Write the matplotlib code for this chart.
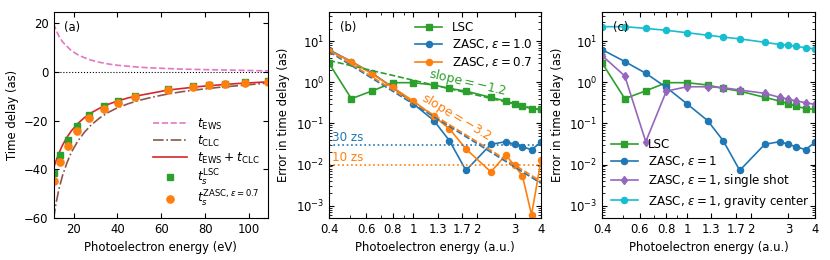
import numpy as np
import matplotlib
matplotlib.use('Agg')
import matplotlib.pyplot as plt
from matplotlib.ticker import FixedLocator, NullFormatter, FixedFormatter

plt.rcParams['font.size'] = 8.4
plt.rcParams['mathtext.fontset'] = 'dejavusans'

# ---- panel (a): time delay vs energy (eV) ----
curve_ev = [10.88, 12, 13.5, 15, 17, 19, 22, 25, 28, 32, 36, 40, 45, 50, 56, 63, 70, 78, 86, 95, 108.84]
t_ews = [20.0, 17.3, 14.5, 12.4, 10.6, 8.8, 7.1, 5.9, 4.9, 4.0, 3.3, 2.8, 2.4, 2.0, 1.7, 1.45, 1.2, 1.05, 0.9, 0.75, 0.5]
t_clc = [-60.5, -54.0, -47.5, -42.5, -37.3, -33.0, -28.3, -24.7, -21.8, -18.8, -16.5, -14.7,
         -13.0, -11.6, -10.3, -9.0, -8.0, -7.1, -6.3, -5.6, -4.5]
t_sum = [-39.5, -36.5, -33.0, -30.0, -26.8, -24.2, -21.1, -18.7, -16.8, -14.8, -13.2, -11.9,
         -10.6, -9.6, -8.6, -7.4, -6.7, -5.9, -5.3, -4.7, -4.0]

energy_au = [0.4, 0.51, 0.64, 0.8, 1.0, 1.25, 1.48, 1.77, 2.32, 2.73, 3.0, 3.27, 3.61, 4.0]
ts_lsc = [-41.3, -34.3, -27.8, -22.3, -17.5, -13.8, -11.8, -9.7, -7.1, -5.9, -5.2, -4.8, -4.2, -3.8]
ts_zasc07 = [-44.6, -37.0, -30.2, -24.1, -18.9, -15.1, -12.6, -10.4, -7.5, -6.3, -5.4, -4.9, -4.3, -3.9]

# ---- panels (b), (c): errors (as) vs energy (a.u.) ----
err_lsc = [2.9, 0.40, 0.62, 0.98, 0.98, 0.86, 0.71, 0.61, 0.43, 0.35, 0.30, 0.26, 0.23, 0.22]
err_zasc10 = [6.2, 3.2, 1.66, 0.75, 0.30, 0.117, 0.038, 0.0072, 0.031, 0.036, 0.031, 0.027, 0.023, 0.035]
err_zasc07 = [5.9, 3.2, 1.6, 0.75, 0.35, 0.15, 0.074, 0.024, 0.0066, 0.017, 0.0095, 0.0053, 0.0006, 0.0126]
err_single = [4.4, 1.43, 0.036, 0.61, 0.78, 0.78, 0.74, 0.65, 0.54, 0.43, 0.39, 0.35, 0.32, 0.29]
err_gravity = [22.6, 22.6, 20.5, 18.4, 16.1, 14.0, 12.6, 11.4, 9.4, 8.3, 8.0, 7.5, 6.9, 6.5]

fit_x = [0.4, 4.0]
fit_lsc = [3.4, 0.21]
fit_zasc10 = [5.6, 0.0035]
fit_zasc07 = [6.0, 0.0039]

au_ticks = [0.4, 0.6, 0.8, 1, 1.3, 1.7, 2, 3, 4]
au_ticklabels = ['0.4', '0.6', '0.8', '1', '1.3', '1.7', '2', '3', '4']

green, blue, orange = '#2ca02c', '#1f77b4', '#ff7f0e'
purple, cyan = '#9467bd', '#17becf'
pink, brown, red = '#e377c2', '#8c564b', '#d62728'

fig = plt.figure(figsize=(8.3, 2.6), dpi=100)
ax_a = fig.add_axes([0.0645, 0.1615, 0.2588, 0.7905])
ax_b = fig.add_axes([0.3964, 0.1615, 0.2554, 0.7905])
ax_c = fig.add_axes([0.7257, 0.1615, 0.2563, 0.7905])

for ax in (ax_a, ax_b, ax_c):
    ax.tick_params(which='both', direction='in', top=True, right=True)

# (a)
ax_a.axhline(0, color='k', ls=':', lw=0.8)
ax_a.plot(curve_ev, t_ews, ls='--', color=pink, lw=1.2, label=r'$t_\mathrm{EWS}$')
ax_a.plot(curve_ev, t_clc, ls='-.', color=brown, lw=1.2, label=r'$t_\mathrm{CLC}$')
ax_a.plot(curve_ev, t_sum, ls='-', color=red, lw=1.2, label=r'$t_\mathrm{EWS}+t_\mathrm{CLC}$')
ev = np.array(energy_au) * 27.211
ax_a.plot(ev, ts_lsc, 's', color=green, ms=4.8, label=r'$t_s^\mathrm{LSC}$')
ax_a.plot(ev, ts_zasc07, 'o', color=orange, ms=5.2, label=r'$t_s^{\mathrm{ZASC},\varepsilon=0.7}$')
ax_a.set_xlim(10.88, 108.84)
ax_a.set_ylim(-60, 24.5)
ax_a.set_xticks([20, 40, 60, 80, 100])
ax_a.set_yticks([-60, -40, -20, 0, 20])
ax_a.set_xlabel('Photoelectron energy (eV)')
ax_a.set_ylabel('Time delay (as)')
ax_a.text(0.05, 0.96, '(a)', transform=ax_a.transAxes, va='top', ha='left')
ax_a.legend(loc='lower right', frameon=False, numpoints=1, fontsize=8.8,
            handlelength=2.8, borderaxespad=0.3, labelspacing=0.15)

# (b)
ax_b.plot(energy_au, err_lsc, '-s', color=green, lw=1.2, ms=4.2, label='LSC')
ax_b.plot(energy_au, err_zasc10, '-o', color=blue, lw=1.2, ms=4.4, label=r'ZASC, $\varepsilon=1.0$')
ax_b.plot(energy_au, err_zasc07, '-o', color=orange, lw=1.2, ms=4.4, label=r'ZASC, $\varepsilon=0.7$')
ax_b.plot(fit_x, fit_lsc, '--', color=green, lw=1.2)
ax_b.plot(fit_x, fit_zasc10, '--', color=blue, lw=1.2)
ax_b.plot(fit_x, fit_zasc07, '--', color=orange, lw=1.2)
ax_b.axhline(0.03, color=blue, ls=':', lw=1.2)
ax_b.axhline(0.01, color=orange, ls=':', lw=1.2)
ax_b.text(0.415, 0.031, '30 zs', color=blue, fontsize=8.6, va='bottom')
ax_b.text(0.415, 0.0104, '10 zs', color=orange, fontsize=8.6, va='bottom')
ax_b.text(1.8, 0.98, r'slope$=-1.2$', color=green, fontsize=9, rotation=-13,
          ha='center', va='center')
ax_b.text(1.6, 0.145, r'slope$=-3.2$', color=orange, fontsize=9, rotation=-31,
          ha='center', va='center')
ax_b.text(0.05, 0.96, '(b)', transform=ax_b.transAxes, va='top', ha='left')
ax_b.legend(loc='upper right', frameon=False, fontsize=8.6, handlelength=2.3,
            borderaxespad=0.3, labelspacing=0.3)

# (c)
ax_c.plot(energy_au, err_lsc, '-s', color=green, lw=1.2, ms=4.2, label='LSC')
ax_c.plot(energy_au, err_zasc10, '-o', color=blue, lw=1.2, ms=4.4, label=r'ZASC, $\varepsilon=1$')
ax_c.plot(energy_au, err_single, '-d', color=purple, lw=1.2, ms=4.4,
          label=r'ZASC, $\varepsilon=1$, single shot')
ax_c.plot(energy_au, err_gravity, '-o', color=cyan, lw=1.2, ms=4.4,
          label=r'ZASC, $\varepsilon=1$, gravity center')
ax_c.text(0.05, 0.96, '(c)', transform=ax_c.transAxes, va='top', ha='left')
ax_c.legend(loc='lower left', frameon=False, fontsize=8.6, handlelength=2.3,
            borderaxespad=0.3, labelspacing=0.3)

for ax in (ax_b, ax_c):
    ax.set_xscale('log')
    ax.set_yscale('log')
    ax.set_xlim(0.4, 4.0)
    ax.set_ylim(5e-4, 50)
    ax.xaxis.set_major_locator(FixedLocator(au_ticks))
    ax.xaxis.set_major_formatter(FixedFormatter(au_ticklabels))
    ax.xaxis.set_minor_formatter(NullFormatter())
    ax.set_xlabel('Photoelectron energy (a.u.)')
    ax.set_ylabel('Error in time delay (as)')

fig.savefig('out.png', dpi=100)
